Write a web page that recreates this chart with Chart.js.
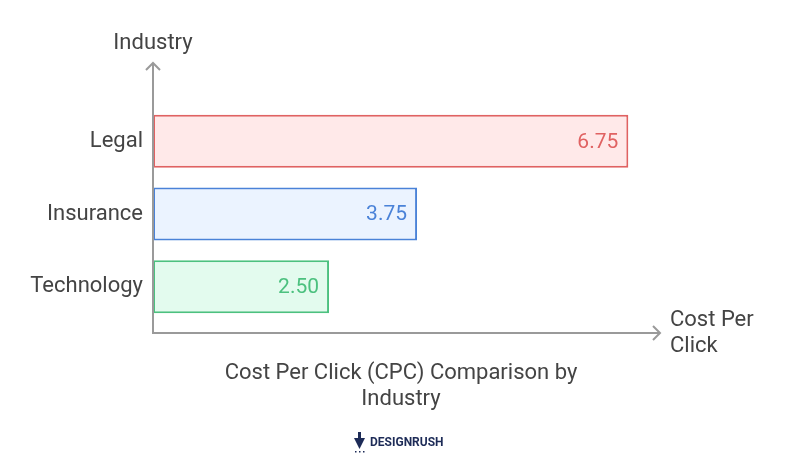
<!DOCTYPE html>
<html>
<head>
<meta charset="utf-8">
<script src="https://cdn.jsdelivr.net/npm/chart.js@4/dist/chart.umd.min.js"></script>
<style>
  html, body { margin: 0; padding: 0; background: #fff; }
  #wrap { width: 801px; height: 467px; position: relative; }
</style>
</head>
<body>
<div id="wrap"><canvas id="cpc-chart"></canvas></div>
<script>
// data
const industries = ['Legal', 'Insurance', 'Technology'];
const cpcValues = [6.75, 3.75, 2.50];
const barBorders = ['#e06262', '#4a82d8', '#4cc17f'];
const barFills = ['#ffe9e9', '#ebf3ff', '#e3fbee'];
const axisMax = 7.2;

const TEXT = '#444444';
const AXIS = '#9a9a9a';
const FONT = 'Roboto, "Open Sans", sans-serif';

// axis lines with arrows, value labels, titles
const decorations = {
    id: 'decorations',
    afterDatasetsDraw(chart) {
        const ctx = chart.ctx;
        const area = chart.chartArea;
        const x0 = area.left;
        const yBase = area.bottom + 10;
        const yTop = 63;
        const xEnd = area.right;

        // value labels
        const meta = chart.getDatasetMeta(0);
        ctx.save();
        ctx.font = '21px ' + FONT;
        ctx.textAlign = 'right';
        ctx.textBaseline = 'middle';
        meta.data.forEach((bar, i) => {
            ctx.fillStyle = barBorders[i];
            ctx.fillText(cpcValues[i].toFixed(2), bar.x - 10, bar.y + 1);
        });

        // axes
        ctx.strokeStyle = AXIS;
        ctx.lineWidth = 2;
        ctx.beginPath();
        ctx.moveTo(x0, yTop);
        ctx.lineTo(x0, yBase);
        ctx.lineTo(xEnd, yBase);
        ctx.stroke();
        ctx.beginPath();
        ctx.moveTo(x0 - 7, yTop + 7);
        ctx.lineTo(x0, yTop);
        ctx.lineTo(x0 + 7, yTop + 7);
        ctx.moveTo(xEnd - 7, yBase - 7);
        ctx.lineTo(xEnd, yBase);
        ctx.lineTo(xEnd - 7, yBase + 7);
        ctx.stroke();

        // axis titles
        ctx.fillStyle = TEXT;
        ctx.font = '22px ' + FONT;
        ctx.textAlign = 'center';
        ctx.textBaseline = 'middle';
        ctx.fillText('Industry', x0, 43);
        ctx.textAlign = 'left';
        ctx.fillText('Cost Per', xEnd + 10, 320);
        ctx.fillText('Click', xEnd + 10, 346);

        // chart title
        ctx.textAlign = 'center';
        ctx.fillText('Cost Per Click (CPC) Comparison by', 401, 373);
        ctx.fillText('Industry', 401, 399);

        // logo
        ctx.fillStyle = '#1d2b57';
        ctx.font = 'bold 12px ' + FONT;
        ctx.textAlign = 'left';
        ctx.fillText('DESIGNRUSH', 370, 443);
        ctx.beginPath();
        ctx.moveTo(354, 438);
        ctx.lineTo(365, 438);
        ctx.lineTo(359.5, 449);
        ctx.closePath();
        ctx.fill();
        ctx.fillRect(358, 432, 3, 6);
        ctx.fillRect(355, 451, 1.5, 1.5);
        ctx.fillRect(359, 451, 1.5, 1.5);
        ctx.fillRect(363, 451, 1.5, 1.5);
        ctx.restore();
    }
};

const ctx = document.getElementById('cpc-chart').getContext('2d');
new Chart(ctx, {
    type: 'bar',
    data: {
        labels: industries,
        datasets: [{
            data: cpcValues,
            backgroundColor: barFills,
            borderColor: barBorders,
            borderWidth: 2,
            borderSkipped: false,
            categoryPercentage: 0.73,
            barPercentage: 1
        }]
    },
    options: {
        indexAxis: 'y',
        responsive: true,
        maintainAspectRatio: false,
        animation: false,
        layout: {
            padding: { top: 105, bottom: 144, left: 0, right: 141 }
        },
        plugins: {
            legend: { display: false },
            tooltip: { enabled: false },
            title: { display: false }
        },
        scales: {
            x: {
                display: false,
                min: 0,
                max: axisMax
            },
            y: {
                grid: { display: false, tickLength: 0 },
                border: { display: false },
                ticks: {
                    color: TEXT,
                    font: { family: FONT, size: 22 },
                    padding: 10
                },
                afterFit(scale) { scale.width = 153; }
            }
        }
    },
    plugins: [decorations]
});
</script>
</body>
</html>
